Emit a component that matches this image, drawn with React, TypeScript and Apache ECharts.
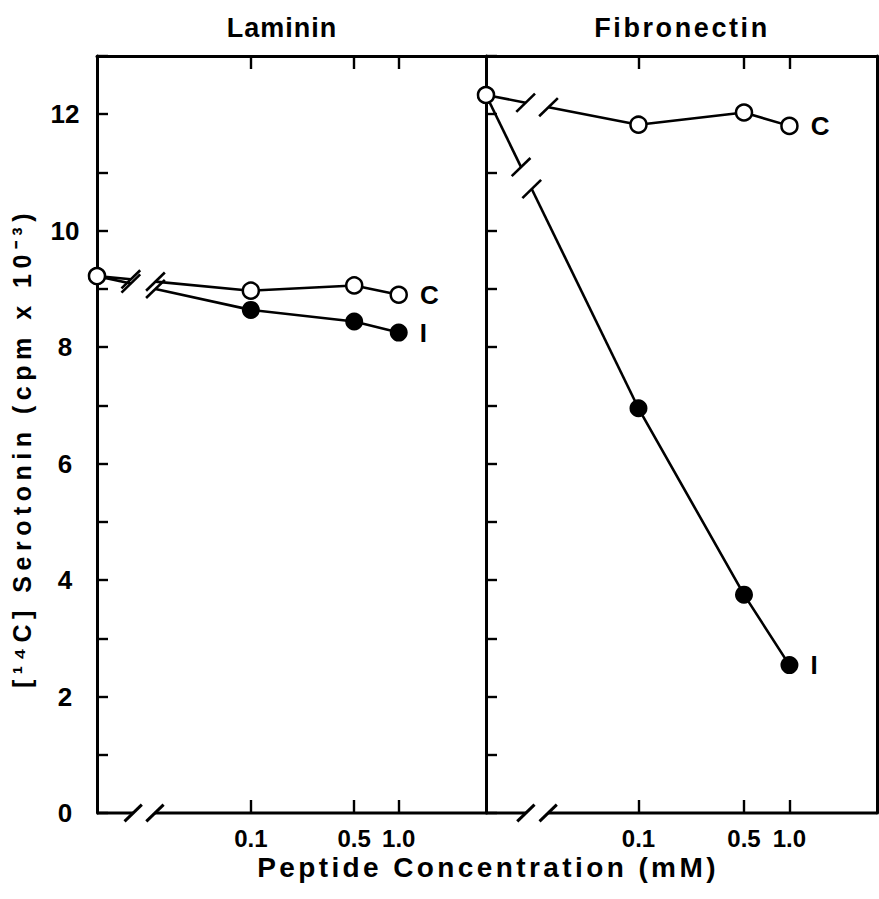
import React, { useEffect, useRef } from "react";
import * as echarts from "echarts";

// ---------- data ----------
const CONC = [0, 0.1, 0.5, 1.0]; // mM, 0 = control (plotted at the broken axis start)
const X_TICK_VALUES = [0.1, 0.5, 1.0];
const X_TICK_LABELS = ["0.1", "0.5", "1.0"];
const Y_TICK_LABELS = ["0", "2", "4", "6", "8", "10", "12"];
const PANELS = ["Laminin", "Fibronectin"];
const LAMININ_C = [9.22, 8.97, 9.06, 8.9];
const LAMININ_I = [9.22, 8.64, 8.44, 8.25];
const FIBRONECTIN_C = [12.33, 11.82, 12.03, 11.8];
const FIBRONECTIN_I = [12.33, 6.95, 3.75, 2.54];
const SERIES_LABELS = ["C", "I"];
const X_NAME = "Peptide Concentration (mM)";
const Y_NAME = "[\u00b9\u2074C] Serotonin (cpm x 10\u207b\u00b3)";

// ---------- layout / style ----------
const FONT = '"Liberation Sans", Arial, Helvetica, sans-serif';
const INK = "#000";
const Y_MIN = 0;
const Y_MAX = 13;
const GRID_TOP = 56;
const GRID_H = 757;
const GRIDS = [
  { left: 97, width: 389, xMin: -2.04, xMax: 0.59 },
  { left: 486, width: 391, xMin: -2.01, xMax: 0.58 },
];
// gap fractions (along each segment) for the broken-axis marks
const AXIS_GAP = [
  [0.093, 0.149],
  [0.102, 0.159],
];
const LINE_GAP = [
  { c: [0.22, 0.38], i: [0.22, 0.38] },
  { c: [0.26, 0.41], i: [0.23, 0.3] },
];
const LETTER_SPACING: Record<string, number> = {
  Laminin: 1,
  Fibronectin: 2.6,
  [X_NAME]: 3.4,
  [Y_NAME]: 5.5,
};

const X_POS = X_TICK_VALUES.map((v) => Math.log10(v));
const labelFor = (v: number) => {
  let best = 0;
  X_POS.forEach((p, i) => {
    if (Math.abs(p - v) < Math.abs(X_POS[best] - v)) best = i;
  });
  return X_TICK_LABELS[best];
};

function brokenRenderer(lineWidth: number, half: number) {
  return (params: any, api: any) => {
    const p0 = api.coord([api.value(0), api.value(1)]);
    const p1 = api.coord([api.value(2), api.value(3)]);
    const f0 = api.value(4);
    const f1 = api.value(5);
    const lerp = (f: number) => [p0[0] + (p1[0] - p0[0]) * f, p0[1] + (p1[1] - p0[1]) * f];
    const a = lerp(f0);
    const b = lerp(f1);
    const dx = half * 0.72;
    const dy = half * 0.7;
    const style = { stroke: INK, lineWidth, lineCap: "butt" };
    return {
      type: "group",
      children: [
        { type: "line", shape: { x1: p0[0], y1: p0[1], x2: a[0], y2: a[1] }, style },
        { type: "line", shape: { x1: b[0], y1: b[1], x2: p1[0], y2: p1[1] }, style },
        { type: "line", shape: { x1: a[0] - dx, y1: a[1] + dy, x2: a[0] + dx, y2: a[1] - dy }, style },
        { type: "line", shape: { x1: b[0] - dx, y1: b[1] + dy, x2: b[0] + dx, y2: b[1] - dy }, style },
      ],
    };
  };
}

function buildOption() {
  const xAxis: any[] = [];
  const yAxis: any[] = [];
  const series: any[] = [];
  const grid = GRIDS.map((g) => ({ left: g.left, top: GRID_TOP, width: g.width, height: GRID_H, containLabel: false }));
  const datasets = [
    [LAMININ_C, LAMININ_I],
    [FIBRONECTIN_C, FIBRONECTIN_I],
  ];
  const axisLineStyle = { color: INK, width: 3 };
  const tickStyle = { color: INK, width: 2.4 };
  const labelStyle = { color: INK, fontSize: 24, fontWeight: "bold", fontFamily: FONT };

  GRIDS.forEach((g, gi) => {
    const bx = xAxis.length;
    xAxis.push({
      type: "value",
      gridIndex: gi,
      min: g.xMin,
      max: g.xMax,
      position: "bottom",
      axisLine: { show: false, onZero: false },
      axisTick: { show: true, inside: true, length: 13, customValues: X_POS, lineStyle: tickStyle },
      axisLabel: { show: true, customValues: X_POS, formatter: (v: number) => labelFor(v), margin: 13, ...labelStyle },
      splitLine: { show: false },
    });
    xAxis.push({
      type: "value",
      gridIndex: gi,
      min: g.xMin,
      max: g.xMax,
      position: "top",
      axisLine: { show: true, onZero: false, lineStyle: axisLineStyle },
      axisTick: { show: true, inside: true, length: 13, customValues: X_POS, lineStyle: tickStyle },
      axisLabel: { show: false },
      splitLine: { show: false },
    });
    const ly = yAxis.length;
    yAxis.push({
      type: "value",
      gridIndex: gi,
      min: Y_MIN,
      max: Y_MAX,
      interval: 1,
      position: "left",
      axisLine: { show: true, onZero: false, lineStyle: axisLineStyle },
      axisTick: { show: true, inside: true, length: 11, lineStyle: tickStyle },
      axisLabel: {
        show: gi === 0,
        formatter: (v: number) => (Y_TICK_LABELS.includes(String(v)) ? String(v) : ""),
        margin: 32,
        align: "center",
        ...labelStyle,
        fontSize: 26,
      },
      splitLine: { show: false },
    });
    if (gi === GRIDS.length - 1) {
      yAxis.push({
        type: "value",
        gridIndex: gi,
        min: Y_MIN,
        max: Y_MAX,
        position: "right",
        axisLine: { show: true, onZero: false, lineStyle: axisLineStyle },
        axisTick: { show: false },
        axisLabel: { show: false },
        splitLine: { show: false },
      });
    }

    // broken bottom axis
    series.push({
      type: "custom",
      xAxisIndex: bx,
      yAxisIndex: ly,
      renderItem: brokenRenderer(3, 12),
      data: [[g.xMin, Y_MIN, g.xMax, Y_MIN, AXIS_GAP[gi][0], AXIS_GAP[gi][1]]],
      silent: true,
      z: 3,
    });

    const [cVals, iVals] = datasets[gi];
    const xs = CONC.map((c) => (c === 0 ? g.xMin : Math.log10(c)));
    const pairs: [number[], string, any][] = [
      [iVals, SERIES_LABELS[1], LINE_GAP[gi].i],
      [cVals, SERIES_LABELS[0], LINE_GAP[gi].c],
    ];
    pairs.forEach(([vals, name, gap]) => {
      const open = name === "C";
      const itemStyle = open
        ? { color: "#fff", borderColor: INK, borderWidth: 2.5, opacity: 1 }
        : { color: INK, borderColor: INK, borderWidth: 0, opacity: 1 };
      const size = open ? 16 : 18;
      // broken first segment (control -> 0.1 mM)
      series.push({
        type: "custom",
        xAxisIndex: bx,
        yAxisIndex: ly,
        renderItem: brokenRenderer(2.6, 13),
        data: [[xs[0], vals[0], xs[1], vals[1], gap[0], gap[1]]],
        silent: true,
        z: 2,
      });
      // remaining segments
      series.push({
        type: "line",
        name,
        xAxisIndex: bx,
        yAxisIndex: ly,
        symbol: "circle",
        symbolSize: size,
        showAllSymbol: true,
        lineStyle: { color: INK, width: 2.6 },
        itemStyle,
        z: 4,
        data: xs.slice(1).map((x, k) => {
          const item: any = { value: [x, vals[k + 1]] };
          if (k === xs.length - 2) {
            item.label = {
              show: true,
              position: "right",
              distance: 12,
              formatter: name,
              color: INK,
              fontSize: 26,
              fontWeight: "bold",
              fontFamily: FONT,
            };
          }
          return item;
        }),
      });
      // control point
      series.push({
        type: "scatter",
        xAxisIndex: bx,
        yAxisIndex: ly,
        symbol: "circle",
        symbolSize: size,
        itemStyle,
        z: 4,
        data: [[xs[0], vals[0]]],
      });
    });
  });

  const textStyle = (text: string, fontSize: number) => ({
    text,
    align: "center",
    verticalAlign: "middle",
    fontSize,
    fontWeight: "bold",
    fontFamily: FONT,
    fill: INK,
  });
  const graphic = [
    { type: "text", x: 282, y: 28, style: textStyle(PANELS[0], 27) },
    { type: "text", x: 682, y: 28, style: textStyle(PANELS[1], 27) },
    { type: "text", x: 488, y: 867, style: textStyle(X_NAME, 28) },
    { type: "text", x: 22, y: 448, rotation: Math.PI / 2, style: textStyle(Y_NAME, 25) },
  ];

  return {
    animation: false,
    backgroundColor: "#fff",
    grid,
    xAxis,
    yAxis,
    series,
    graphic,
  };
}

export default function App() {
  const ref = useRef<HTMLDivElement>(null);
  useEffect(() => {
    if (!ref.current) return;
    const el = ref.current;
    const chart = echarts.init(el, null, { renderer: "svg" });
    const applySpacing = () => {
      el.querySelectorAll("text").forEach((t) => {
        const s = t.textContent || "";
        const ls = LETTER_SPACING[s];
        if (ls != null) t.setAttribute("letter-spacing", String(ls));
      });
    };
    chart.on("finished", applySpacing);
    chart.setOption(buildOption() as any);
    applySpacing();
    return () => chart.dispose();
  }, []);
  return <div ref={ref} style={{ position: "absolute", left: 0, top: 0, width: 879, height: 899 }} />;
}
